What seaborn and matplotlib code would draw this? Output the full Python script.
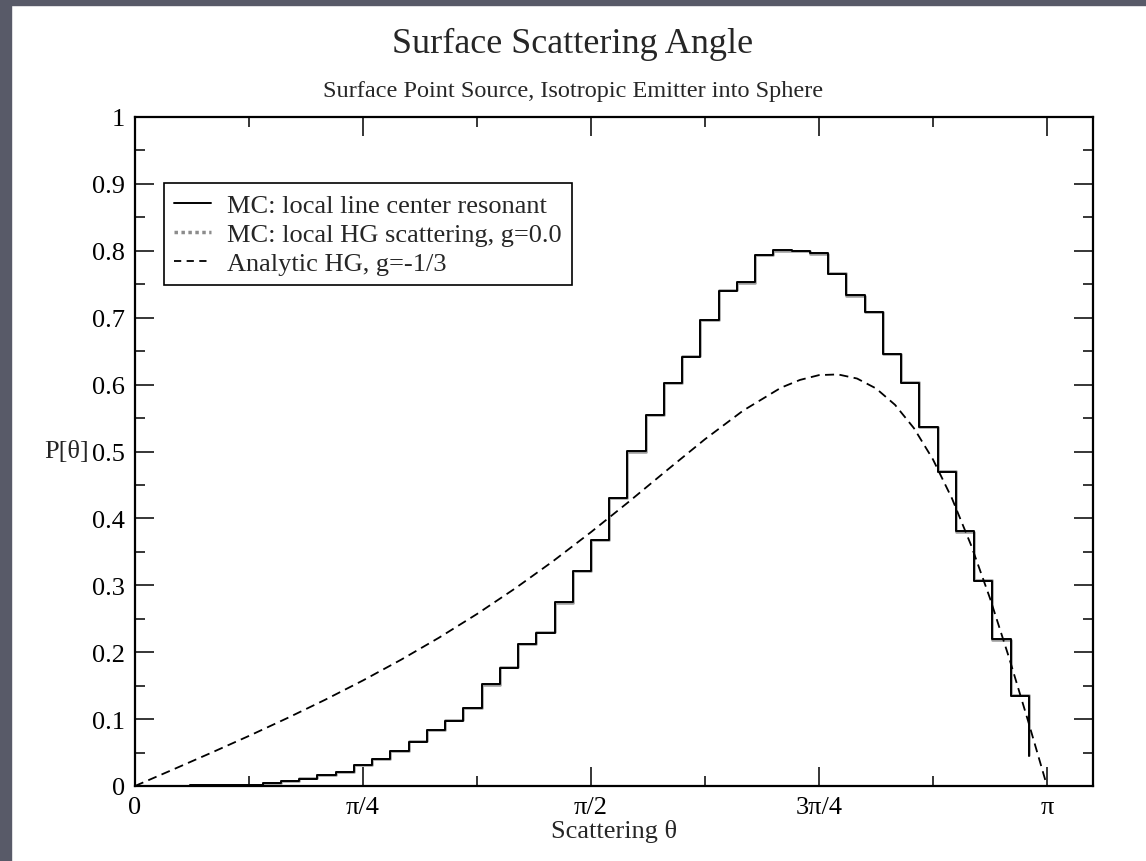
import numpy as np
import pandas as pd
import matplotlib
matplotlib.use("Agg")
import matplotlib.pyplot as plt
from matplotlib.patches import Rectangle
from matplotlib.lines import Line2D
import seaborn as sns

# histogram: 50 bins of width pi/50, values at the left edge of each bin
n_bins = 50
mc_resonant = [0.000, 0.000, 0.000, 0.001, 0.001, 0.002, 0.002, 0.004, 0.007, 0.011,
               0.017, 0.021, 0.032, 0.040, 0.053, 0.066, 0.084, 0.097, 0.117, 0.152,
               0.177, 0.213, 0.229, 0.275, 0.321, 0.368, 0.430, 0.501, 0.554, 0.603,
               0.642, 0.697, 0.740, 0.753, 0.793, 0.801, 0.799, 0.796, 0.766, 0.734,
               0.708, 0.646, 0.603, 0.537, 0.470, 0.381, 0.307, 0.219, 0.135, 0.045]
mc_hg = [0.000, 0.000, 0.000, 0.001, 0.001, 0.001, 0.002, 0.005, 0.007, 0.012,
         0.016, 0.021, 0.031, 0.041, 0.052, 0.067, 0.083, 0.098, 0.116, 0.151,
         0.178, 0.212, 0.230, 0.274, 0.322, 0.367, 0.431, 0.499, 0.555, 0.602,
         0.643, 0.696, 0.741, 0.752, 0.794, 0.800, 0.800, 0.795, 0.767, 0.733,
         0.709, 0.645, 0.604, 0.536, 0.471, 0.380, 0.308, 0.218, 0.136, 0.046]

# analytic curve (angle in degrees)
hg_deg = [0, 7.5, 15, 22.5, 30, 37.5, 45, 52.5, 60, 67.5, 75, 82.5, 90, 97.5, 105,
          112.5, 120, 127.5, 131.25, 135, 138.75, 142.5, 146.25, 150, 153.75, 157.5,
          161.25, 165, 168.75, 172.5, 176.25, 180]
hg_val = [0.0, 0.0246, 0.0495, 0.0749, 0.1013, 0.1288, 0.1578, 0.1887, 0.2217, 0.2571,
          0.2952, 0.3360, 0.3795, 0.4251, 0.4721, 0.5184, 0.5610, 0.5954, 0.6070, 0.6142,
          0.6152, 0.6091, 0.5943, 0.5698, 0.5347, 0.4880, 0.4297, 0.3602, 0.2805, 0.1920,
          0.0976, 0.0]

x_tick_labels = ["0", "\u03c0/4", "\u03c0/2", "3\u03c0/4", "\u03c0"]
y_tick_labels = ["0", "0.1", "0.2", "0.3", "0.4", "0.5", "0.6", "0.7", "0.8", "0.9", "1"]

theta_bins = np.arange(n_bins) * np.pi / n_bins
hist = pd.DataFrame({"theta": theta_bins, "res": mc_resonant, "hg": mc_hg})
curve = pd.DataFrame({"theta": np.deg2rad(hg_deg), "p": hg_val})

sns.set_theme(style="ticks")
plt.rcParams["font.family"] = ["Liberation Serif", "DejaVu Serif"]

fig = plt.figure(figsize=(11.46, 8.62), dpi=100)
fig.patch.set_facecolor("white")
# slide background strips
fig.patches.append(Rectangle((0, 0), 11 / 1146, 1, transform=fig.transFigure,
                             color="#585a68", zorder=-10))
fig.patches.append(Rectangle((0, 1 - 6 / 862), 1, 6 / 862, transform=fig.transFigure,
                             color="#585a68", zorder=-10))

ax = fig.add_axes([135 / 1146, 1 - 787 / 862, 958 / 1146, (787 - 118) / 862])

sns.lineplot(data=hist, x="theta", y="hg", ax=ax, estimator=None, sort=False,
             drawstyle="steps-post", color="#9a9a9a", lw=1.8, zorder=2)
sns.lineplot(data=hist, x="theta", y="res", ax=ax, estimator=None, sort=False,
             drawstyle="steps-post", color="black", lw=1.4, zorder=3)
sns.lineplot(data=curve, x="theta", y="p", ax=ax, estimator=None, sort=False,
             color="black", lw=1.3, linestyle=(0, (5, 3)), zorder=4)

ax.set_xlim(0, 3.30)
ax.set_ylim(0, 1)
ax.set_xticks(np.arange(5) * np.pi / 4)
ax.set_xticklabels(x_tick_labels)
ax.set_xticks(np.arange(9) * np.pi / 8, minor=True)
ax.set_yticks(np.arange(11) / 10)
ax.set_yticklabels(y_tick_labels)
ax.set_yticks(np.arange(21) / 20, minor=True)
ax.tick_params(which="both", direction="in", top=True, right=True,
               labelsize=19, colors="black", width=1.1)
ax.tick_params(which="major", length=13.5, pad=7)
ax.tick_params(which="minor", length=7)
for s in ax.spines.values():
    s.set_linewidth(1.6)
    s.set_color("black")

ax.set_xlabel("Scattering \u03b8", fontsize=19, labelpad=1)
ax.set_ylabel("P[\u03b8]", fontsize=19, rotation=0, ha="center", va="center")
ax.yaxis.set_label_coords(-0.071, 0.5)

fig.text(0.5, 1 - 44 / 862, "Surface Scattering Angle", ha="center", va="center",
         fontsize=26)
fig.text(0.5, 1 - 91 / 862, "Surface Point Source, Isotropic Emitter into Sphere",
         ha="center", va="center", fontsize=17.5)

handles = [
    Line2D([], [], color="black", lw=1.4),
    Line2D([], [], color="#8c8c8c", lw=2.5, linestyle=(0, (1, 1))),
    Line2D([], [], color="black", lw=1.3, linestyle=(0, (4, 3))),
]
labels = ["MC: local line center resonant", "MC: local HG scattering, g=0.0",
          "Analytic HG, g=-1/3"]
leg = ax.legend(handles, labels, loc="upper left", bbox_to_anchor=(0.03, 0.901),
                borderaxespad=0, fontsize=19, frameon=True, fancybox=False,
                edgecolor="black", framealpha=1, handlelength=1.4,
                handletextpad=0.6, borderpad=0.4, labelspacing=0.2)
leg.get_frame().set_linewidth(1.2)

fig.savefig("out.png", dpi=100)
